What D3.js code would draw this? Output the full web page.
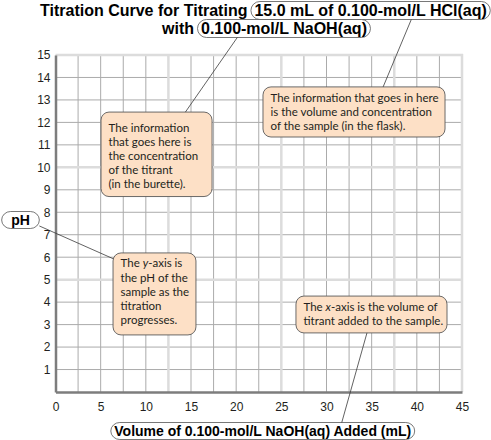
<!DOCTYPE html>
<html>
<head>
<meta charset="utf-8">
<script src="https://cdn.jsdelivr.net/npm/d3@7"></script>
<style>
  body { margin: 0; background: #fff; }
  svg { display: block; }
</style>
</head>
<body>
<div id="chartArea"></div>
<script>
// tick values
const xTicks = [0, 5, 10, 15, 20, 25, 30, 35, 40, 45];
const yTicks = [1, 2, 3, 4, 5, 6, 7, 8, 9, 10, 11, 12, 13, 14, 15];
// grid steps (mL, pH)
const xGrid = d3.range(0, 45.01, 2.5);
const yGrid = d3.range(0, 15.01, 1);

// title / labels
const titleLead = "Titration Curve for Titrating";
const titleSample = "15.0 mL of 0.100-mol/L HCl(aq)";
const titleWith = "with";
const titleTitrant = "0.100-mol/L NaOH(aq)";
const xLabel = "Volume of 0.100-mol/L NaOH(aq) Added (mL)";
const yLabel = "pH";

// callout texts
const noteTitrant = ["The information", "that goes here is", "the concentration", "of the titrant", "(in the burette)."];
const noteSample = ["The information that goes in here", "is the volume and concentration", "of the sample (in the flask)."];
const noteYAxis = [["The ", ["y", true], "-axis is"], "the pH of the", "sample as the", "titration", "progresses."];
const noteXAxis = [["The ", ["x", true], "-axis is the volume of"], "titrant added to the sample."];

// colours
const peach = "#fde0c6";
const boxStroke = "#5a5a5a";
const ink = "#231f20";
const minorGrid = "#ababab";
const majorGrid = "#dcdcdc";
const axisGrey = "#7d7d7d";

const W = 491, H = 440;
const svg = d3.select("#chartArea").append("svg")
  .attr("width", W)
  .attr("height", H);

const x = d3.scaleLinear().domain([0, 45]).range([55.5, 462]);
const y = d3.scaleLinear().domain([0, 15]).range([392, 55]);

const isMajorX = v => v % 12.5 === 0 || v === 45;
const isMajorY = v => v % 5 === 0;

// GRID - minor first, wide light lines on top
const grid = svg.append("g");
grid.selectAll(".vmin")
  .data(xGrid.filter(v => !isMajorX(v)))
  .enter().append("line")
    .attr("x1", d => x(d)).attr("x2", d => x(d))
    .attr("y1", y(0)).attr("y2", y(15))
    .attr("stroke", minorGrid).attr("stroke-width", 1);
grid.selectAll(".hmin")
  .data(yGrid.filter(v => !isMajorY(v)))
  .enter().append("line")
    .attr("y1", d => y(d)).attr("y2", d => y(d))
    .attr("x1", x(0)).attr("x2", x(45))
    .attr("stroke", minorGrid).attr("stroke-width", 1);
grid.selectAll(".vmaj")
  .data(xGrid.filter(v => isMajorX(v) && v > 0))
  .enter().append("line")
    .attr("x1", d => x(d)).attr("x2", d => x(d))
    .attr("y1", y(0)).attr("y2", y(15) - 1)
    .attr("stroke", majorGrid).attr("stroke-width", 2.5);
grid.selectAll(".hmaj")
  .data(yGrid.filter(v => isMajorY(v) && v > 0))
  .enter().append("line")
    .attr("y1", d => y(d)).attr("y2", d => y(d))
    .attr("x1", x(0)).attr("x2", x(45) + 1)
    .attr("stroke", majorGrid).attr("stroke-width", 2.5);

// AXES
const xAxis = svg.append("g")
  .attr("transform", `translate(0,${y(0)})`)
  .call(d3.axisBottom(x).tickValues(xTicks).tickSize(0).tickPadding(10));
const yAxis = svg.append("g")
  .attr("transform", `translate(${x(0)},0)`)
  .call(d3.axisLeft(y).tickValues(yTicks).tickSize(0).tickPadding(5));
[xAxis, yAxis].forEach(a => {
  a.select(".domain").attr("stroke", axisGrey).attr("stroke-width", 2.5);
  a.selectAll("text")
    .attr("font-family", "'Liberation Sans', Arial, sans-serif")
    .attr("font-size", "12px")
    .attr("fill", ink);
});

// pill = text with a rounded outline round it
function pill(g, txt, px, baseline, size, anchor, padX) {
  padX = padX || 3.5;
  const t = g.append("text")
    .attr("x", px).attr("y", baseline)
    .attr("text-anchor", anchor || "start")
    .attr("font-family", "'Liberation Sans', Arial, sans-serif")
    .attr("font-weight", "bold")
    .attr("font-size", size + "px")
    .attr("fill", "#000")
    .text(txt);
  const b = t.node().getBBox();
  const r = { x: b.x - padX, y: b.y - 0.5, w: b.width + 2 * padX, h: b.height + 1 };
  g.insert("rect", "text")
    .attr("x", r.x).attr("y", r.y)
    .attr("width", r.w).attr("height", r.h)
    .attr("rx", Math.min(9, r.w / 2)).attr("ry", r.h / 2)
    .attr("fill", "#fff")
    .attr("stroke", "#555").attr("stroke-width", 0.8);
  return r;
}
function plain(g, txt, px, baseline, size) {
  const t = g.append("text")
    .attr("x", px).attr("y", baseline)
    .attr("font-family", "'Liberation Sans', Arial, sans-serif")
    .attr("font-weight", "bold")
    .attr("font-size", size + "px")
    .attr("fill", "#000")
    .text(txt);
  return t.node().getBBox();
}

// TITLE
const titleG = svg.append("g");
const lead = plain(titleG, titleLead, 40, 16, 16);
const pillSample = pill(titleG, titleSample, lead.x + lead.width + 7, 16, 16);
const withB = plain(titleG, titleWith, 162, 34, 16);
const pillTitrant = pill(titleG, titleTitrant, withB.x + withB.width + 7, 34, 16);

// AXIS LABELS
const labelG = svg.append("g");
const pillX = pill(labelG, xLabel, (x(0) + x(45)) / 2 + 4, 436, 14, "middle");
const pillY = pill(labelG, yLabel, 20.5, 225, 14, "middle", 9.5);

// CALLOUT BOXES (corners in data units)
function callout(lines, x0, x1, y0, y1, firstGap) {
  const bx = x(x0), by = y(y0), bw = x(x1) - x(x0), bh = y(y1) - y(y0);
  const g = svg.append("g");
  g.append("rect")
    .attr("x", bx).attr("y", by)
    .attr("width", bw).attr("height", bh)
    .attr("rx", 8).attr("ry", 8)
    .attr("fill", peach)
    .attr("stroke", boxStroke).attr("stroke-width", 0.9);
  const t = g.append("text")
    .attr("font-family", "Lato, 'Open Sans', sans-serif")
    .attr("font-size", "11.5px")
    .attr("fill", ink);
  lines.forEach((ln, i) => {
    const row = t.append("tspan")
      .attr("x", bx + 7.5)
      .attr("y", by + firstGap + i * 14.2);
    if (typeof ln === "string") { row.text(ln); return; }
    ln.forEach((part, j) => {
      const sp = j === 0 ? row : t.append("tspan");
      if (Array.isArray(part)) sp.text(part[0]).attr("font-style", "italic");
      else sp.text(part);
    });
  });
  return { x: bx, y: by, w: bw, h: bh };
}

const box1 = callout(noteTitrant, 5.04, 17.33, 12.46, 8.7, 19.5);
const box2 = callout(noteSample, 22.97, 43.12, 13.58, 11.35, 15);
const box3 = callout(noteYAxis, 6.37, 15.55, 6.19, 2.54, 14.5);
const box4 = callout(noteXAxis, 26.62, 43.34, 4.27, 2.63, 15);

// LEADER LINES
const at = (r, fx, fy) => [r.x + fx * r.w, r.y + fy * r.h];
const leaders = [
  [at(pillTitrant, 0.23, 1), at(box1, 0.76, 0)],
  [at(pillSample, 0.67, 1), at(box2, 0.66, 0)],
  [at(pillY, 1, 0.85), at(box3, 0, 0.07)],
  [at(box4, 0.47, 1), at(pillX, 0.76, 0)]
];
svg.append("g").selectAll("line")
  .data(leaders)
  .enter().append("line")
    .attr("x1", d => d[0][0]).attr("y1", d => d[0][1])
    .attr("x2", d => d[1][0]).attr("y2", d => d[1][1])
    .attr("stroke", "#3a3a3a").attr("stroke-width", 0.8);
</script>
</body>
</html>
